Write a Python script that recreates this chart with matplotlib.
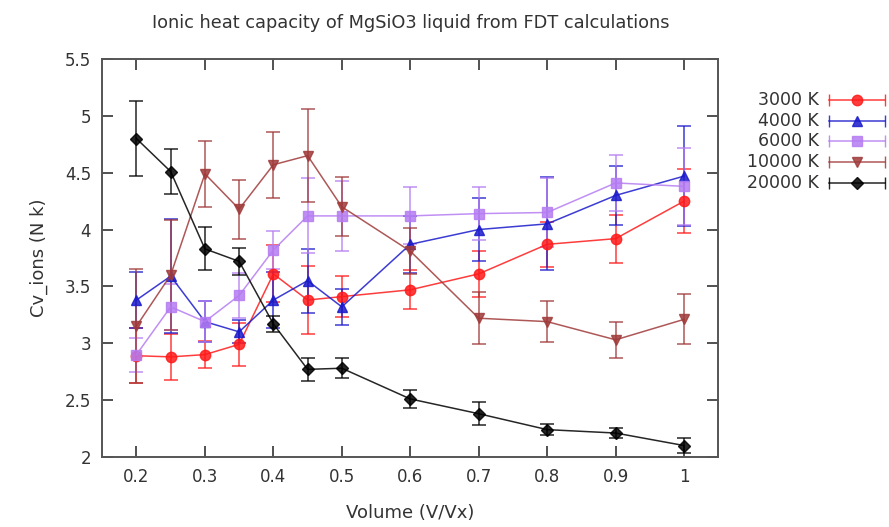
import numpy as np
import matplotlib
matplotlib.use("Agg")
import matplotlib.pyplot as plt
from matplotlib.lines import Line2D
from matplotlib.ticker import FuncFormatter

# Volumes (V/Vx) at which the FDT runs were done
volume = [0.2, 0.25, 0.3, 0.35, 0.4, 0.45, 0.5, 0.6, 0.7, 0.8, 0.9, 1.0]

# Cv_ions (N k) and standard errors for each isotherm
cv_3000 = [2.89, 2.88, 2.90, 2.99, 3.61, 3.38, 3.41, 3.47, 3.61, 3.87, 3.92, 4.25]
err_3000 = [0.24, 0.20, 0.12, 0.19, 0.25, 0.30, 0.18, 0.17, 0.20, 0.20, 0.21, 0.28]

cv_4000 = [3.38, 3.59, 3.19, 3.10, 3.38, 3.55, 3.32, 3.87, 4.00, 4.05, 4.30, 4.47]
err_4000 = [0.25, 0.50, 0.18, 0.10, 0.25, 0.28, 0.16, 0.25, 0.28, 0.41, 0.26, 0.44]

cv_6000 = [2.90, 3.32, 3.19, 3.42, 3.82, 4.12, 4.12, 4.12, 4.14, 4.15, 4.41, 4.38]
err_6000 = [0.15, 0.20, 0.18, 0.20, 0.17, 0.33, 0.31, 0.25, 0.23, 0.30, 0.25, 0.34]

cv_10000 = [3.15, 3.60, 4.49, 4.18, 4.57, 4.65, 4.20, 3.81, 3.22, 3.19, 3.03, 3.21]
err_10000 = [0.50, 0.48, 0.29, 0.26, 0.29, 0.41, 0.26, 0.20, 0.23, 0.18, 0.16, 0.22]

cv_20000 = [4.80, 4.51, 3.83, 3.72, 3.17, 2.77, 2.78, 2.51, 2.38, 2.24, 2.21, 2.10]
err_20000 = [0.33, 0.20, 0.19, 0.12, 0.07, 0.10, 0.09, 0.08, 0.10, 0.05, 0.04, 0.07]

labels = ["3000 K", "4000 K", "6000 K", "10000 K", "20000 K"]
series = [(cv_3000, err_3000), (cv_4000, err_4000), (cv_6000, err_6000),
          (cv_10000, err_10000), (cv_20000, err_20000)]
colors = ["#ff1a1a", "#1a1acc", "#b57cf2", "#a03a3a", "#000000"]
markers = ["o", "^", "s", "v", "D"]
msizes = [7.5, 7, 7, 7, 6]

plt.rcParams['font.family'] = ['DejaVu Sans']

fig = plt.figure(figsize=(8.89, 5.27), dpi=100)
ax = fig.add_axes([0.115, 0.133, 0.693, 0.755])

for (y, e), col, mk, ms, lab in zip(series, colors, markers, msizes, labels):
    ax.errorbar(volume, y, yerr=e, color=col, marker=mk, markersize=ms, lw=1.1,
                elinewidth=1.1, capsize=5, capthick=1.1, alpha=0.85, label=lab)

ax.set_xlim(0.15, 1.05)
ax.set_ylim(2, 5.5)
ax.set_xticks([0.2, 0.3, 0.4, 0.5, 0.6, 0.7, 0.8, 0.9, 1.0])
ax.set_yticks(np.arange(2, 5.51, 0.5))
ax.xaxis.set_major_formatter(FuncFormatter(lambda v, p: f"{v:g}"))
ax.yaxis.set_major_formatter(FuncFormatter(lambda v, p: f"{v:g}"))
ax.tick_params(direction='in', length=8, width=1.2, top=True, right=True,
               labelsize=12, colors='#333333', pad=8)
for sp in ax.spines.values():
    sp.set_color('#555555')
    sp.set_linewidth(1.4)

ax.set_xlabel("Volume (V/Vx)", fontsize=13, color='#333333', labelpad=13)
ax.set_ylabel("Cv_ions (N k)", fontsize=13, color='#333333', labelpad=12)
ax.set_title("Ionic heat capacity of MgSiO3 liquid from FDT calculations",
             fontsize=12.8, color='#333333', pad=22)

# gnuplot-style key outside the plot on the right
key_y0, key_dy = 0.81, 0.0392
for i, (lab, col, mk, ms) in enumerate(zip(labels, colors, markers, msizes)):
    ky = key_y0 - i * key_dy
    fig.text(0.921, ky, lab, ha='right', va='center', fontsize=12.5, color='#333333')
    fig.add_artist(Line2D([0.932, 0.995], [ky, ky], transform=fig.transFigure,
                          color=col, lw=1.1, alpha=0.85))
    fig.add_artist(Line2D([0.932, 0.995], [ky, ky], transform=fig.transFigure,
                          color=col, lw=0, marker='|', markersize=8, alpha=0.85))
    fig.add_artist(Line2D([0.9635], [ky], transform=fig.transFigure,
                          color=col, lw=0, marker=mk, markersize=ms, alpha=0.85))

fig.savefig("out.png", dpi=100)
